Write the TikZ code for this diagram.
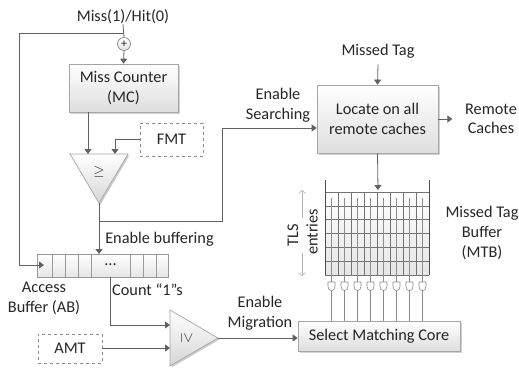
\documentclass[tikz,border=0pt]{standalone}
\usepackage{fontspec}
\setmainfont{Carlito}
\usetikzlibrary{arrows.meta,shadows,calc}

\begin{document}
\begin{tikzpicture}[x=1pt,y=-1pt,
  font=\fontsize{16.3}{19.6}\selectfont, text=black!85,
  wire/.style={draw=black!62, line width=0.8pt},
  arr/.style={wire, -{Triangle[length=5pt,width=7pt]}},
  box/.style={draw=black!35, line width=0.7pt, top color=white, bottom color=black!13,
    drop shadow={shadow xshift=1.6pt, shadow yshift=-1.6pt, fill=black!22, opacity=0.8},
    align=center, inner sep=0pt},
  dbox/.style={draw=black!45, dashed, line width=0.7pt, fill=white, align=center, inner sep=0pt},
  lbl/.style={align=center, inner sep=0pt},
  cmp/.style={draw=black!35, line width=0.7pt, top color=white, bottom color=black!16},
  cmpshadow/.style={fill=black!20},
  geq/.style={inner sep=0pt, font=\fontsize{15}{15}\selectfont},
  gridline/.style={draw=black!55, line width=0.5pt},
  pale/.style={draw=black!30, line width=0.6pt, -{Straight Barb[length=3pt,width=7pt]}}
]
\useasboundingbox (0,0) rectangle (519,367);

% ---------- texts ----------
\node[lbl] (mh)  at (123,17)  {Miss(1)/Hit(0)};
\node[lbl] (mt)  at (378,51)  {Missed Tag};
\node[lbl] (rc)  at (491,119) {Remote\\Caches};
\node[lbl] (es)  at (278,105) {Enable\\Searching};
\node[lbl] (eb)  at (159.5,239) {Enable buffering};
\node[lbl, anchor=west] (c1) at (112,290) {Count “1”s};
\node[lbl] (ab)  at (44,298.5) {Access\\Buffer (AB)};
\node[lbl] (em)  at (260,313) {Enable\\Migration};
\node[lbl] (mtbl) at (482,233) {Missed Tag\\Buffer\\(MTB)};
\node[lbl, rotate=90] (tls) at (293,235) {TLS};
\node[lbl, rotate=90] (ent) at (312,232) {entries};

% ---------- boxes ----------
\node[box, minimum width=109pt, minimum height=48pt] (mc)  at (123.5,88)  {Miss Counter\\(MC)};
\node[box, minimum width=121pt, minimum height=68pt] (loc) at (377.5,119) {Locate on all\\remote caches};
\node[box, minimum width=162pt, minimum height=30pt] (sel) at (379,336)   {Select Matching Core};
\node[dbox, minimum width=63pt, minimum height=33pt] (fmt) at (171.5,139.5) {FMT};
\node[dbox, minimum width=64pt, minimum height=29pt] (amt) at (70,348.5) {AMT};

% adder
\node[circle, draw=black!50, line width=0.6pt, top color=white, bottom color=black!12,
      minimum size=13pt, inner sep=0pt, font=\fontsize{12}{12}\selectfont] (plus) at (124,44) {+};

% ---------- comparator 1 (points down) ----------
\coordinate (k1a) at (70,154);
\coordinate (k1b) at (128,154);
\coordinate (k1o) at (99,203);
\coordinate (k1i1) at (88,154);
\coordinate (k1i2) at (115,154);
\fill[cmpshadow] ($(k1a)+(1.5,1.5)$) -- ($(k1b)+(1.5,1.5)$) -- ($(k1o)+(1.5,1.5)$) -- cycle;
\path[cmp] (k1a) -- (k1b) -- (k1o) -- cycle;
\node[geq] (g1) at (99,172) {$\geq$};

% ---------- comparator 2 (points right) ----------
\coordinate (k2a) at (170,310);
\coordinate (k2b) at (170,366);
\coordinate (k2o) at (218,338);
\coordinate (k2i1) at (170,325);
\coordinate (k2i2) at (170,348);
\fill[cmpshadow] ($(k2a)+(1.5,1.5)$) -- ($(k2b)+(1.5,1.5)$) -- ($(k2o)+(1.5,1.5)$) -- cycle;
\path[cmp] (k2a) -- (k2b) -- (k2o) -- cycle;
\node[geq, rotate=-90] (g2) at (187,338) {$\geq$};

% ---------- access buffer ----------
\shade[top color=white, bottom color=black!10, draw=black!40, line width=0.6pt] (37,254) rectangle (168,277);
\foreach \x in {52,65,78,91,130,143,156}
  \draw[draw=black!40, line width=0.6pt] (\x,254) -- (\x,277);
\node[inner sep=0pt] (dots) at (110.5,265) {...};
\coordinate (buftop) at (99,254);
\coordinate (bufin) at (44,265);
\coordinate (bufout) at (110,277);

% ---------- missed tag buffer ----------
\shade[top color=white, bottom color=black!10] (325,192) rectangle (429,275);
\foreach \i in {0,...,6}
  \draw[gridline] (325,192+\i*13.833) -- (429,192+\i*13.833);
\foreach \i in {1,...,7}
  \draw[gridline] (325+\i*13,192) -- (325+\i*13,275);
\draw[draw=black!70, line width=0.8pt] (325,180) -- (325,275);
\draw[draw=black!70, line width=0.8pt] (429,180) -- (429,275);
\coordinate (mtbtop) at (378,190);
% match lines and gates, one per column
\foreach \i in {0,...,7}{
  \pgfmathsetmacro{\cx}{331.5+\i*13}
  \draw[draw=black!45, line width=0.5pt] (\cx,198) -- (\cx,282);
  \draw[draw=black!45, line width=0.6pt, fill=white]
     (\cx-3.5,282) -- (\cx+3.5,282) -- (\cx+3.5,286.5)
     .. controls (\cx+3.5,292) and (\cx-3.5,292) .. (\cx-3.5,286.5) -- cycle;
  \draw[draw=black!45, line width=0.6pt] (\cx,290.6) -- (\cx,321);
}
% TLS size arrows
\draw[pale] (302,218) -- (302,190);
\draw[pale] (302,253) -- (302,276);

% ---------- connectors ----------
\coordinate (tap) at (124,33);
\draw[wire] (mh.south) -- (plus.north);
\draw[arr] (tap) -- (19,33) -- (19,265) -- (bufin);
\draw[arr] (plus.south) -- (mc.north);
\draw[arr] (mc.south -| k1i1) -- (k1i1);
\draw[arr] (fmt.west) -| (k1i2);
\coordinate (split) at (99,221);
\draw[arr] (k1o) -- (buftop);
\draw[arr] (split) -- (222,221) -- (222,128) -- (loc.west |- 0,128);
\draw[arr] (mt.south) ++(0,6) -- (loc.north);
\draw[arr] (loc.east) -- ++(14,0);
\draw[arr] (loc.south) -- (mtbtop);
\draw[arr] (bufout) |- (k2i1);
\draw[arr] (amt.east |- k2i2) -- (k2i2);
\draw[arr] (k2o) -- (k2o -| sel.west);
\end{tikzpicture}
\end{document}
